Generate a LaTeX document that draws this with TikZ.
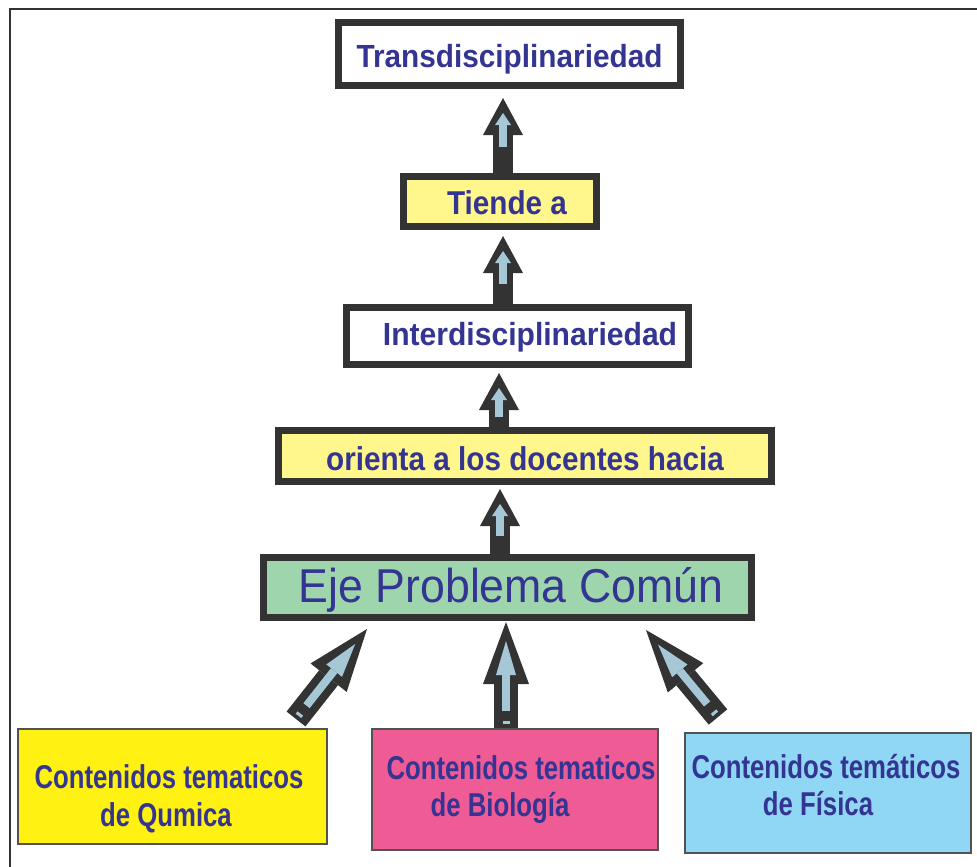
\documentclass[tikz,border=0pt]{standalone}
\usepackage{fontspec}
\usepackage{graphicx}
\setmainfont{Liberation Sans}
\usetikzlibrary{arrows.meta,calc}

\definecolor{ink}{RGB}{52,52,146}
\definecolor{edge}{RGB}{51,51,51}
\definecolor{paleyellow}{RGB}{255,246,140}
\definecolor{mint}{RGB}{158,213,172}
\definecolor{lemon}{RGB}{255,242,18}
\definecolor{rose}{RGB}{238,91,149}
\definecolor{sky}{RGB}{143,215,244}
\definecolor{steel}{RGB}{166,200,214}

% horizontally condensed text
\newcommand\squeeze[2]{\scalebox{#1}[1]{#2}}

\tikzset{
  topbox/.style={draw=edge, line width=7pt, inner sep=0pt, text=ink, text depth=0pt},
  lowbox/.style={draw=edge!85, line width=2pt, inner sep=0pt},
  lowtext/.style={inner sep=0pt, text=ink, anchor=base,
    font=\fontsize{33}{38}\selectfont\bfseries},
  % short block arrows between the upper boxes
  fatarrow/.style={draw=edge, line width=20pt,
    -{Triangle[width=40pt,length=37pt,line width=0pt]}},
  slimarrow/.style={draw=steel, line width=8pt, shorten >=15pt, shorten <=#1,
    -{Triangle[width=16pt,length=12pt,line width=0pt]}},
  % long block arrows from the subject boxes
  longarrow/.style={draw=edge, line width=24pt,
    -{Triangle[width=46pt,length=62pt,line width=0pt]}},
  longinner/.style={draw=steel, line width=8pt, shorten >=19pt, shorten <=17pt,
    -{Triangle[width=20pt,length=34pt,line width=0pt]}},
  notch/.style={draw=steel, line width=7pt},
}

\begin{document}
\begin{tikzpicture}[x=1pt, y=-1pt]
\useasboundingbox (0,0) rectangle (977,867);
\fill[white] (0,0) rectangle (977,867);

% page frame (open on the right and bottom)
\draw[edge, line width=2pt] (10,867) -- (10,9) -- (977,9);

% chain of concepts
\node[topbox, fill=white, minimum width=342pt, minimum height=63pt,
      text height=26pt, font=\fontsize{32}{38}\selectfont\bfseries]
  (trans) at (509.5,54) {\squeeze{0.93}{Transdisciplinariedad}};
\node[topbox, fill=paleyellow, minimum width=193pt, minimum height=50pt,
      text height=25pt, font=\fontsize{33}{38}\selectfont\bfseries]
  (tiende) at (500,201.5) {\hspace*{14pt}\squeeze{0.90}{Tiende a}};
\node[topbox, fill=white, minimum width=342pt, minimum height=57pt,
      text height=18pt, font=\fontsize{32}{38}\selectfont\bfseries]
  (inter) at (517.5,336) {\hspace*{25pt}\squeeze{0.94}{Interdisciplinariedad}};
\node[topbox, fill=paleyellow, minimum width=493pt, minimum height=51pt,
      text height=28pt, font=\fontsize{33}{38}\selectfont\bfseries]
  (orienta) at (525,456) {\squeeze{0.90}{orienta a los docentes hacia}};
\node[topbox, fill=mint, minimum width=488pt, minimum height=60pt,
      text height=29pt, font=\fontsize{47.5}{52}\selectfont]
  (eje) at (507.5,587.5) {\hspace*{7pt}\squeeze{0.94}{Eje Problema Común}};

% subject boxes
\node[lowbox, fill=lemon, minimum width=309pt, minimum height=115pt] (quim) at (172.5,786.5) {};
\node[lowbox, fill=rose,  minimum width=286pt, minimum height=121pt] (bio)  at (515,789.5) {};
\node[lowbox, fill=sky,   minimum width=286pt, minimum height=120pt] (fis)  at (828,793) {};

\node[lowtext] (quimA) at (169,788) {\squeeze{0.78}{Contenidos tematicos}};
\node[lowtext] (quimB) at (166,826) {\squeeze{0.78}{de Qumica}};
\node[lowtext] (bioA)  at (521,779) {\squeeze{0.78}{Contenidos tematicos}};
\node[lowtext] (bioB)  at (500,816) {\squeeze{0.78}{de Biología}};
\node[lowtext] (fisA)  at (826,778) {\squeeze{0.78}{Contenidos temáticos}};
\node[lowtext] (fisB)  at (818,815) {\squeeze{0.78}{de Física}};

% arrows between the concepts
\coordinate (a1t) at ($(tiende.north)+(3,0)$);
\coordinate (a1h) at ($(a1t |- trans.south)+(0,9)$);
\draw[fatarrow] (a1t) -- (a1h);
\draw[slimarrow=26pt] (a1t) -- (a1h);

\coordinate (a2t) at ($(inter.north -| tiende.south)+(3,0)$);
\coordinate (a2h) at ($(tiende.south)+(3,6)$);
\draw[fatarrow] (a2t) -- (a2h);
\draw[slimarrow=20pt] (a2t) -- (a2h);

\coordinate (a3t) at ($(orienta.north -| tiende.south)+(-1,0)$);
\coordinate (a3h) at ($(inter.south -| tiende.south)+(-1,5)$);
\draw[fatarrow] (a3t) -- (a3h);
\draw[slimarrow=10pt] (a3t) -- (a3h);

\coordinate (a4t) at (eje.north -| tiende.south);
\coordinate (a4h) at ($(orienta.south -| tiende.south)+(0,4)$);
\draw[fatarrow] (a4t) -- (a4h);
\draw[slimarrow=18pt] (a4t) -- (a4h);

% arrows from the subjects to the common axis
\coordinate (b1t) at ($(quim.north east)+(-32,-9)$);
\coordinate (b1h) at ($(eje.south west)+(107,8)$);
\coordinate (b2t) at ($(bio.north)+(-9,0)$);
\coordinate (b2h) at ($(bio.north |- eje.south)+(-9,1)$);
\coordinate (b3t) at ($(fis.north west)+(34,-15)$);
\coordinate (b3h) at ($(eje.south east)+(-109,9)$);
\foreach \t/\h in {b1t/b1h, b2t/b2h, b3t/b3h}{
  \draw[longarrow] (\t) -- (\h);
  \draw[longinner] (\t) -- (\h);
  \draw[notch] ($(\t)!4pt!(\h)$) -- ($(\t)!7pt!(\h)$);
}
\end{tikzpicture}
\end{document}
